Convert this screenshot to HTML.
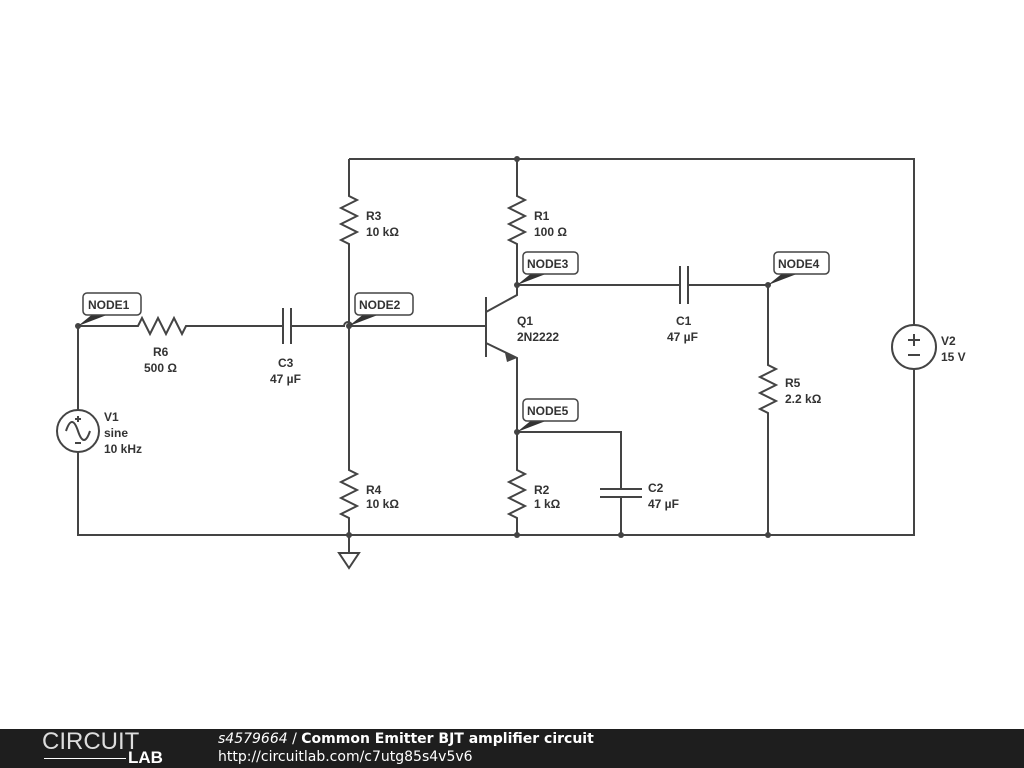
<!DOCTYPE html>
<html><head><style>
body{margin:0;width:1024px;height:768px;background:#fff;overflow:hidden;font-family:"Liberation Sans",sans-serif}
svg text{font-family:"Liberation Sans",sans-serif;font-weight:bold;font-size:12px;fill:#333}
.f{position:absolute;left:0;top:729px;width:1024px;height:39px;background:#1e1e1e;color:#fff;font-family:"DejaVu Sans",sans-serif}
</style></head><body>
<svg width="1024" height="729" style="position:absolute;left:0;top:0">
<g stroke="#444" stroke-width="2" fill="none">
<path d="M349 159H914V326M914 369V535H78V452M78 410V326H138l4-8 8 16 8-16 8 16 8-16 8 16 4-8H283M291 326H344a4 4 0 0 1 8 0H486"/>
<path d="M283 308V344M291 308V344"/>
<path d="M349 159V196l8 4-16 8 16 8-16 8 16 8-16 8 8 4V470l8 4-16 8 16 8-16 8 16 8-16 8 8 4V553"/>
<path d="M339 553h20l-10 15z"/>
<path d="M517 159V196l8 4-16 8 16 8-16 8 16 8-16 8 8 4V295L486 312M486 297V357M486 343L517 358V470l8 4-16 8 16 8-16 8 16 8-16 8 8 4V535"/>
<path d="M517 285H680M688 285H768V365l8 4-16 8 16 8-16 8 16 8-16 8 8 4V535"/>
<path d="M680 266V304M688 266V304"/>
<path d="M517 432H621V489M600 489H642M600 497H642M621 497V535"/>
<circle cx="78" cy="431" r="21"/><path d="M66 431c4-12 8-12 12 0s8 12 12 0"/>
<path d="M75 419h6M78 416v6M75 443h6"/>
<circle cx="914" cy="347" r="22"/><path d="M908 340h12M914 334v12M908 355h12"/>
</g>
<path d="M505 353l12 5-10 4z" fill="#444"/>
<g fill="#444"><circle cx="78" cy="326" r="3"/><circle cx="349" cy="326" r="3"/><circle cx="517" cy="159" r="3"/><circle cx="517" cy="285" r="3"/><circle cx="517" cy="432" r="3"/><circle cx="768" cy="285" r="3"/><circle cx="349" cy="535" r="3"/><circle cx="517" cy="535" r="3"/><circle cx="621" cy="535" r="3"/><circle cx="768" cy="535" r="3"/></g>
<g fill="#333">
<path d="M78 326l16-13h18z"/><path d="M349 326l16-13h18z"/><path d="M517 285l16-13h18z"/><path d="M517 432l16-13h18z"/><path d="M768 285l16-13h18z"/>
</g>
<g fill="#fff" stroke="#444" stroke-width="1.5">
<rect x="83" y="293" width="58" height="22" rx="4"/><rect x="355" y="293" width="58" height="22" rx="4"/>
<rect x="523" y="252" width="55" height="22" rx="4"/><rect x="523" y="399" width="55" height="22" rx="4"/>
<rect x="774" y="252" width="55" height="22" rx="4"/>
</g>
<text x="88" y="309">NODE1</text><text x="359" y="309">NODE2</text><text x="527" y="268">NODE3</text><text x="527" y="415">NODE5</text><text x="778" y="268">NODE4</text>
<text x="153" y="356">R6</text><text x="144" y="372">500 Ω</text>
<text x="278" y="367">C3</text><text x="270" y="383">47 µF</text>
<text x="366" y="220">R3</text><text x="366" y="236">10 kΩ</text>
<text x="366" y="494">R4</text><text x="366" y="508">10 kΩ</text>
<text x="534" y="220">R1</text><text x="534" y="236">100 Ω</text>
<text x="517" y="325">Q1</text><text x="517" y="341">2N2222</text>
<text x="534" y="494">R2</text><text x="534" y="508">1 kΩ</text>
<text x="648" y="492">C2</text><text x="648" y="508">47 µF</text>
<text x="676" y="325">C1</text><text x="667" y="341">47 µF</text>
<text x="785" y="387">R5</text><text x="785" y="403">2.2 kΩ</text>
<text x="104" y="421">V1</text><text x="104" y="437">sine</text><text x="104" y="453">10 kHz</text>
<text x="941" y="345">V2</text><text x="941" y="361">15 V</text>
</svg>
<div class="f">
<div style="position:absolute;left:42px;top:-1px;font-size:24px;font-weight:200;color:#ddd;font-family:'Liberation Sans',sans-serif">CIRCUIT</div>
<div style="position:absolute;left:128px;top:19px;font-size:17px;font-weight:bold;font-family:'Liberation Sans',sans-serif">LAB</div>
<div style="position:absolute;left:44px;top:29px;width:82px;height:1px;background:#fff"></div>
<div style="position:absolute;left:218px;top:2px;font-size:14px"><i>s4579664</i> / <b>Common Emitter BJT amplifier circuit</b></div>
<div style="position:absolute;left:218px;top:20px;font-size:14px">http://circuitlab.com/c7utg85s4v5v6</div>
</div>
</body></html>
